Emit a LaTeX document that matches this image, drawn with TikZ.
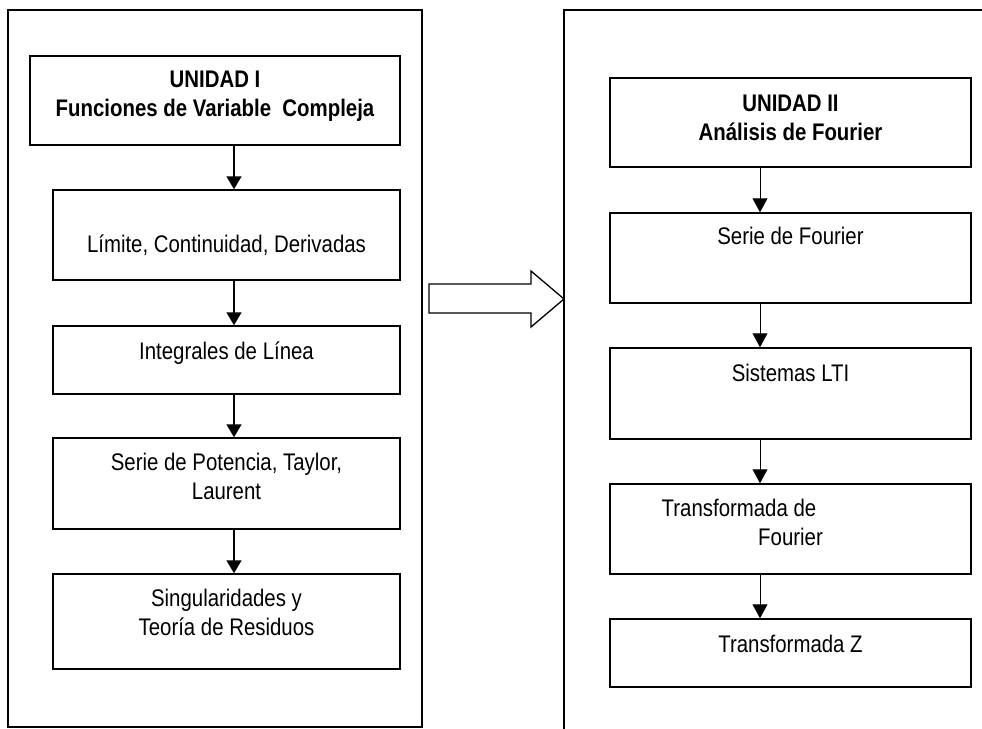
\documentclass[tikz,border=0pt]{standalone}
\usepackage{fontspec}
\setmainfont{Liberation Sans}[FakeStretch=0.85]
\usetikzlibrary{positioning,arrows.meta}

\tikzset{
    blk/.style={draw, line width=1.5pt, inner sep=0pt, minimum width=#1},
    txt/.style={inner sep=0pt, anchor=north, text height=17pt, align=center,
        font=\fontsize{24pt}{29pt}\selectfont},
    txtii/.style={txt, text height=46pt},
    flowL/.style={line width=1.5pt, -{Triangle[width=15pt,length=13pt]}},
    flowR/.style={line width=1pt, -{Triangle[width=15pt,length=14pt]}}
}

\begin{document}
\begin{tikzpicture}[x=1pt, y=-1pt]

        \useasboundingbox (0,0) rectangle (982,728);
        \clip (0,0) rectangle (982,728);

        % outer frames
        \draw[line width=1.5pt] (8,10) rectangle (422,727); % left
        \draw[line width=1.5pt] (564,10) rectangle (995,745); % right

        % left column
        \node[blk=370pt, minimum height=89pt] (u1) at (215,100.5) {};
        \node[blk=347pt, minimum height=90pt] (lim) at (226.5,235) {};
        \node[blk=347pt, minimum height=68pt] (intg) at (226.5,360) {};
        \node[blk=347pt, minimum height=91pt] (pot) at (226.5,483.5) {};
        \node[blk=347pt, minimum height=95pt] (sing) at (226.5,621.5) {};

        \node[txtii, below=15pt of u1.north] (t-u1) {\bfseries UNIDAD I\\\bfseries Funciones de Variable\ \ Compleja};
        \node[txt, below=46pt of lim.north] (t-lim) {Límite, Continuidad, Derivadas};
        \node[txt, below=17pt of intg.north] (t-intg) {Integrales de Línea};
        \node[txtii, below=16pt of pot.north] (t-pot) {Serie de Potencia, Taylor,\\Laurent};
        \node[txtii, below=16pt of sing.north] (t-sing) {Singularidades y\\Teoría de Residuos};

        \coordinate (la) at (234,0);
        \draw[flowL] (u1.south -| la) -- (lim.north -| la);
        \draw[flowL] (lim.south -| la) -- (intg.north -| la);
        \draw[flowL] (intg.south -| la) -- (pot.north -| la);
        \draw[flowL] (pot.south -| la) -- (sing.north -| la);

        % big arrow
        \draw[line width=1.3pt, fill=white] (429,284) -- (531,284) -- (531,271) -- (564,299)
            -- (531,327) -- (531,313) -- (429,313) -- cycle;

        % right column
        \node[blk=361pt, minimum height=89pt] (u2) at (790.5,122.5) {};
        \node[blk=361pt, minimum height=90pt] (sf) at (790.5,258) {};
        \node[blk=361pt, minimum height=91pt] (lti) at (790.5,393.5) {};
        \node[blk=361pt, minimum height=90pt] (tf) at (790.5,529) {};
        \node[blk=361pt, minimum height=68pt] (tz) at (790.5,653) {};

        \node[txtii, below=17pt of u2.north] (t-u2) {\bfseries UNIDAD II\\\bfseries Análisis de Fourier};
        \node[txt, below=15pt of sf.north] (t-sf) {Serie de Fourier};
        \node[txt, below=17pt of lti.north] (t-lti) {Sistemas LTI};
        \node[txt, below=16pt of tf.north, xshift=-51.5pt] (t-tf1) {Transformada de};
        \node[txt, below=45pt of tf.north] (t-tf2) {Fourier};
        \node[txt, below=17pt of tz.north] (t-tz) {Transformada Z};

        \coordinate (ra) at (760,0);
        \draw[flowR] (u2.south -| ra) -- (sf.north -| ra);
        \draw[flowR] (sf.south -| ra) -- (lti.north -| ra);
        \draw[flowR] (lti.south -| ra) -- (tf.north -| ra);
        \draw[flowR] (tf.south -| ra) -- (tz.north -| ra);

    \end{tikzpicture}
\end{document}
